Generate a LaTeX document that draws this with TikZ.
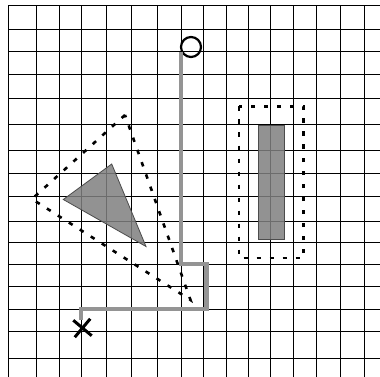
\documentclass[tikz,border=0pt]{standalone}
\usetikzlibrary{shapes.misc, positioning}

\begin{document}
\begin{tikzpicture}[x=1pt, y=-1pt,
    gridline/.style={draw=black, line width=1pt},
    route/.style={draw=black!42, line width=4.5pt},
    obstacle/.style={fill=black!50, fill opacity=0.85, draw=black!70, line width=0.8pt},
    hull/.style={draw=black, line width=2.6pt, dash pattern=on 4.5pt off 8.5pt},
    startpt/.style={circle, draw=black, line width=2.2pt, minimum size=20pt, inner sep=0pt},
    goalpt/.style={cross out, draw=black, line width=3pt, minimum size=14pt, inner sep=0pt, rotate=5}]
    \fill[white] (0,0) rectangle (380,377);
    \useasboundingbox (0,0) rectangle (380,377);
    \foreach \x in {8,36,59,81,106,131,157,181,203,226,248,270,293,316,340,364}
        \draw[gridline] (\x,6) -- (\x,377);
    \foreach \y in {6,30,52,75,99,125,150,173,196,221,242,264,286,309,331,358}
        \draw[gridline] (8,\y) -- (380,\y);
    \path[obstacle] (111.7,164) -- (63.3,199.5) -- (146,246.5) -- cycle;
    \path[obstacle] (258.5,125) rectangle (284.5,239);
    \draw[hull] (125,115) -- (32,199) -- (190.5,300) -- cycle;
    \draw[hull] (239,106.5) rectangle (303.5,258);
    \node[startpt] (start) at (191,47) {};
    \node[goalpt] (goal) at (82.5,328) {};
    \coordinate (c1) at (206.5,264);
    \coordinate (c2) at (206.5,309);
    \coordinate (c3) at (81,309);
    \draw[route] (start.205) |- (c1) -- (c2) -- (c3) -- (c3 |- goal.north);
\end{tikzpicture}
\end{document}
